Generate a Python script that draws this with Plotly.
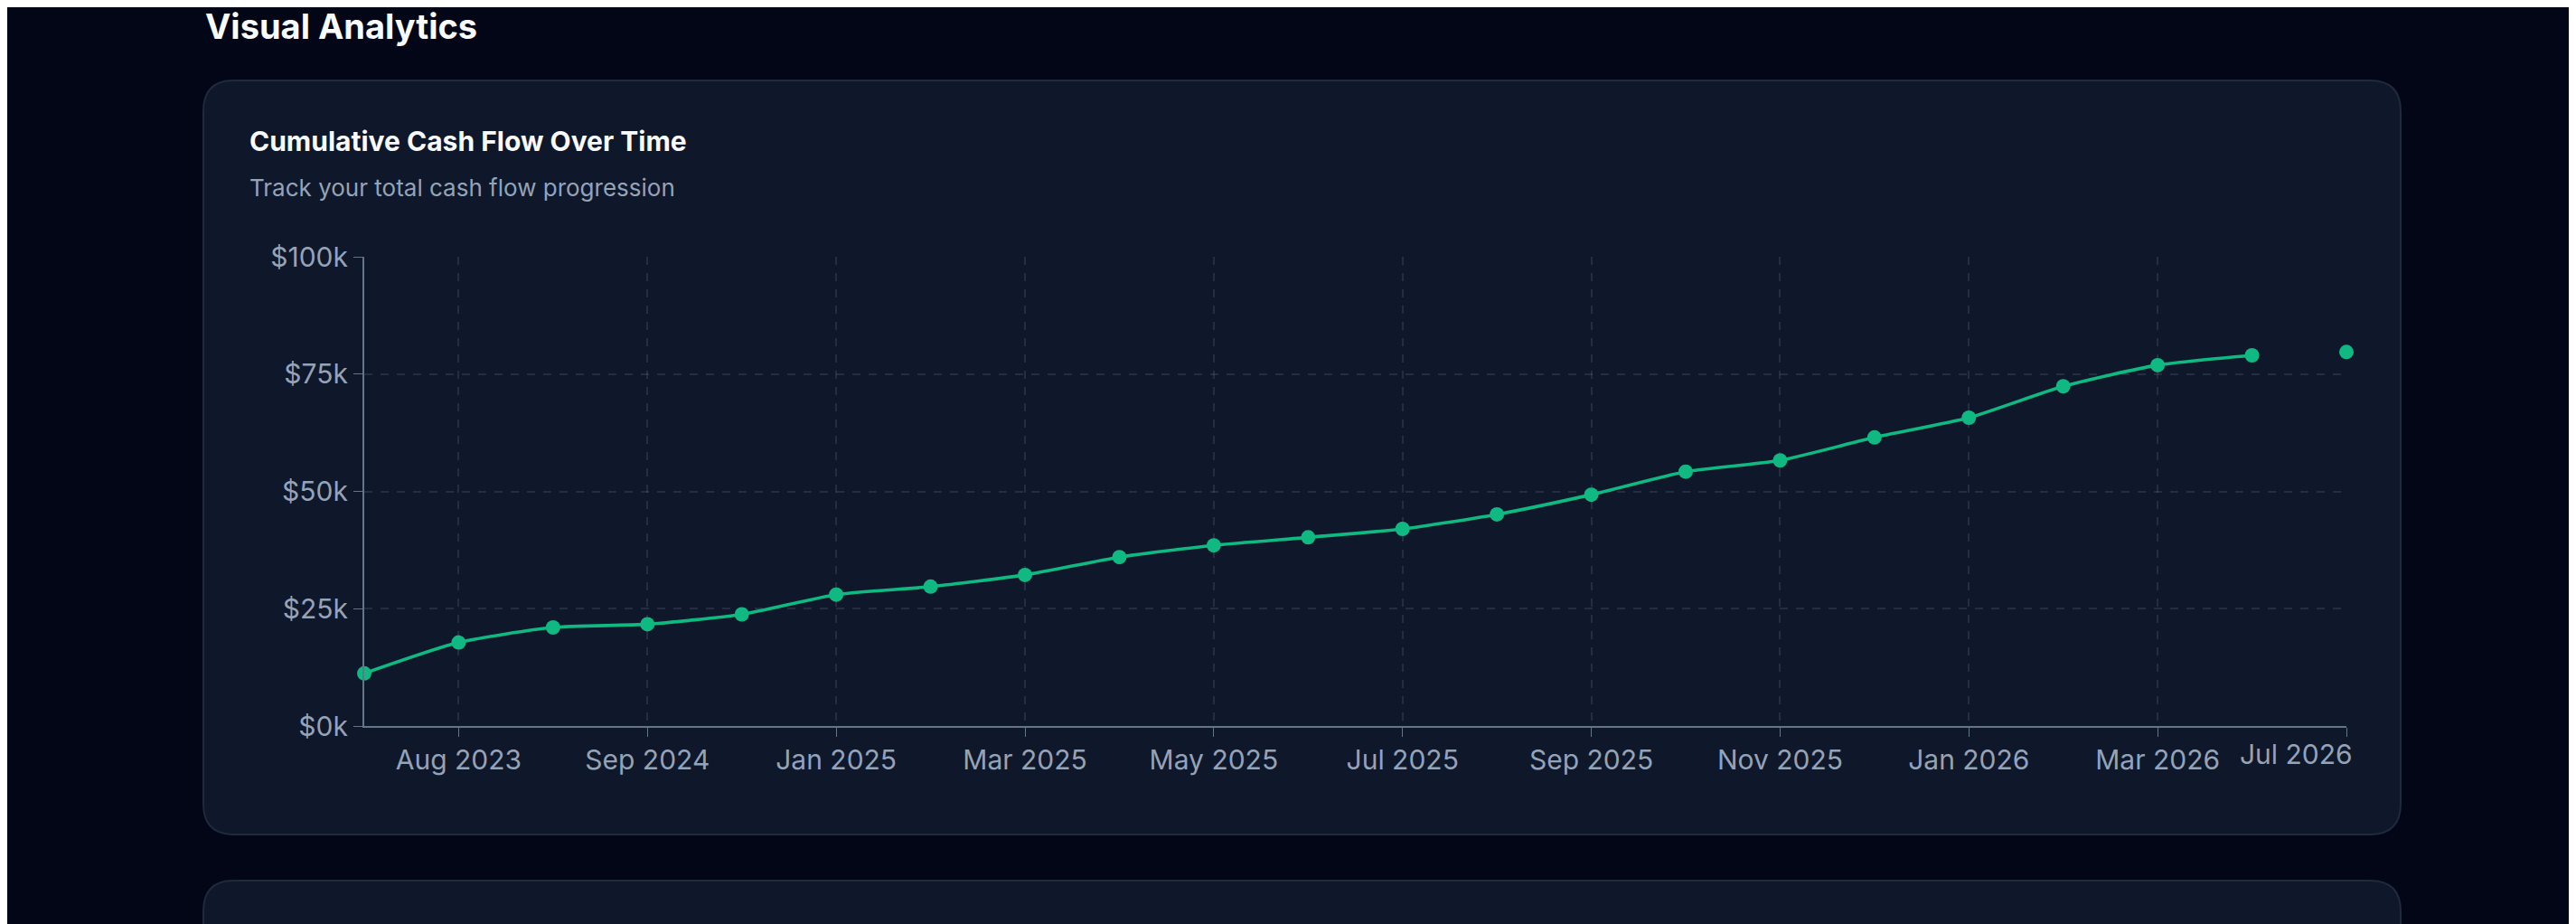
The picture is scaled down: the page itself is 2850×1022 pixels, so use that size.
import plotly.graph_objects as go

W, H = 2850, 1022

# cumulative cash flow, one value per period (in $)
cash_flow = [11200, 17800, 21000, 21700, 23800, 28000, 29700, 32200, 36000, 38500, 40200,
             42000, 45100, 49300, 54200, 56600, 61500, 65700, 72400, 76900, 79000, 79700]
tick_idx = [1, 3, 5, 7, 9, 11, 13, 15, 17, 19]
tick_labels = ["Aug 2023", "Sep 2024", "Jan 2025", "Mar 2025", "May 2025", "Jul 2025",
               "Sep 2025", "Nov 2025", "Jan 2026", "Mar 2026"]
last_label = "Jul 2026"
y_ticks = [0, 25000, 50000, 75000, 100000]
y_labels = ["$0k", "$25k", "$50k", "$75k", "$100k"]

OFF = 8  # page body margin
# plot area in pixels
L, R, T, B = 403 - OFF, 2596 - OFF, 284 - OFF, 803 - OFF
px = lambda x: (x - OFF - L) / (R - L)
py = lambda y: (B - (y - OFF)) / (B - T)


def rounded(x0, y0, x1, y1, r):
    pts = (f"M {px(x0 + r)},{py(y0)} L {px(x1 - r)},{py(y0)} Q {px(x1)},{py(y0)} {px(x1)},{py(y0 + r)} "
           f"L {px(x1)},{py(y1 - r)} Q {px(x1)},{py(y1)} {px(x1 - r)},{py(y1)} "
           f"L {px(x0 + r)},{py(y1)} Q {px(x0)},{py(y1)} {px(x0)},{py(y1 - r)} "
           f"L {px(x0)},{py(y0 + r)} Q {px(x0)},{py(y0)} {px(x0 + r)},{py(y0)} Z")
    return pts


x = list(range(len(cash_flow)))
green = "#10b981"

fig = go.Figure()
fig.add_trace(go.Scatter(
    x=x[:-1], y=cash_flow[:-1], mode="lines+markers",
    line=dict(color=green, width=3.6, shape="spline", smoothing=0.6),
    marker=dict(size=16, color=green), cliponaxis=False, hoverinfo="skip",
))
fig.add_trace(go.Scatter(
    x=x[-1:], y=cash_flow[-1:], mode="markers",
    marker=dict(size=16, color=green), cliponaxis=False, hoverinfo="skip",
))

# cards
card = dict(type="path", xref="paper", yref="paper", layer="below",
            fillcolor="#0f172a", line=dict(color="#1f2a3c", width=2))
fig.add_shape(path=rounded(225, 89, 2656, 923, 34), **card)
fig.add_shape(path=rounded(225, 974, 2656, 1150, 34), **card)

fig.add_annotation(text="<b>Visual Analytics</b>", xref="paper", yref="paper",
                   x=px(225), y=py(29), xanchor="left", yanchor="middle", showarrow=False,
                   font=dict(size=38, color="#f8fafc", family="Inter"))
fig.add_annotation(text="<b>Cumulative Cash Flow Over Time</b>", xref="paper", yref="paper",
                   x=px(274), y=py(156), xanchor="left", yanchor="middle", showarrow=False,
                   font=dict(size=30, color="#f8fafc", family="Inter"))
fig.add_annotation(text="Track your total cash flow progression", xref="paper", yref="paper",
                   x=px(274), y=py(207), xanchor="left", yanchor="middle", showarrow=False,
                   font=dict(size=26, color="#94a3b8", family="Inter"))
fig.add_annotation(text=last_label, xref="paper", yref="paper",
                   x=px(2540), y=py(834), xanchor="center", yanchor="middle", showarrow=False,
                   font=dict(size=30, color="#94a3b8", family="Inter"))

grid = "rgba(148,163,184,0.16)"
fig.update_xaxes(range=[0, 21], tickvals=tick_idx + [21], ticktext=tick_labels + [""],
                 showgrid=True, gridcolor=grid, griddash="dash", gridwidth=2,
                 showline=True, linecolor="#64748b", linewidth=2,
                 ticks="outside", ticklen=10, tickcolor="#64748b",
                 tickfont=dict(size=30, color="#94a3b8"), zeroline=False)
fig.update_yaxes(range=[0, 100000], tickvals=y_ticks, ticktext=y_labels,
                 showgrid=True, gridcolor=grid, griddash="dash", gridwidth=2,
                 showline=True, linecolor="#64748b", linewidth=2,
                 ticks="outside", ticklen=10, tickcolor="#64748b",
                 tickfont=dict(size=30, color="#94a3b8"), zeroline=False)

fig.update_layout(
    width=W, height=H, showlegend=False,
    margin=dict(l=L, r=W - R, t=T, b=H - B, autoexpand=False),
    paper_bgcolor="#020617", plot_bgcolor="rgba(0,0,0,0)",
    font=dict(family="Inter"),
)

fig.write_html("out.html", config={"displayModeBar": False})
